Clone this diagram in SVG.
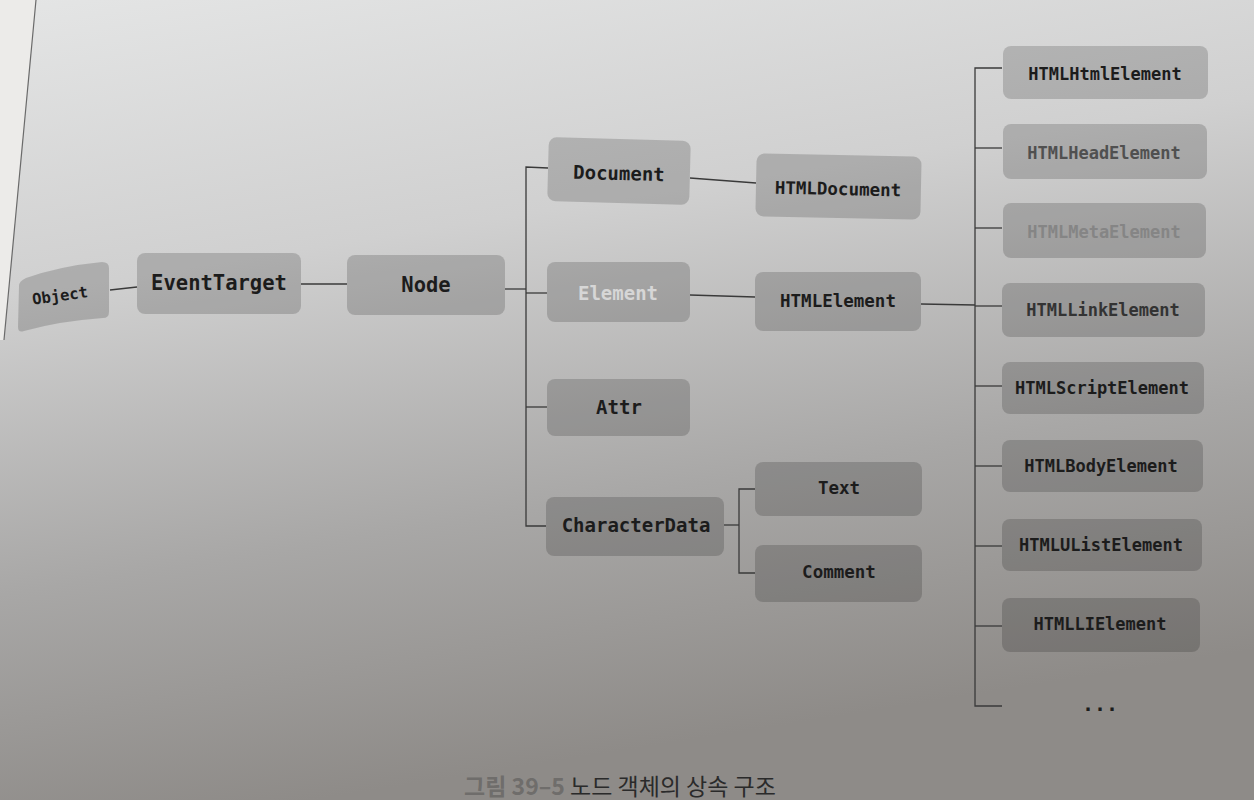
<svg xmlns="http://www.w3.org/2000/svg" width="1254" height="800" viewBox="0 0 1254 800">
<defs>
<linearGradient id="bg" x1="0" y1="0" x2="0.25" y2="1">
<stop offset="0" stop-color="#e4e5e5"/>
<stop offset="0.35" stop-color="#d0d0d0"/>
<stop offset="0.7" stop-color="#a8a7a6"/>
<stop offset="1" stop-color="#8e8b88"/>
</linearGradient>
<style>
.box{fill:#000;fill-opacity:0.17}
.lbl{font-family:"DejaVu Sans Mono","Liberation Mono",monospace;font-weight:bold;fill:#1c1c1c;text-anchor:middle;dominant-baseline:central}
.l1{font-size:19px}
.l2{font-size:17.5px}
.l3{font-size:17px}
.con{fill:none;stroke:#3a3a3a;stroke-width:1.3}
</style>
</defs>
<rect width="1254" height="800" fill="url(#bg)"/>
<path d="M0,0 L36,0 L4,340 L0,340 Z" fill="#ecebe9"/>
<path d="M36,0 L4,340" stroke="#6a6a6a" stroke-width="1.2" fill="none"/>
<g id="connectors">
<path class="con" d="M110,290 L137,287"/>
<path class="con" d="M301,284 L347,284"/>
<path class="con" d="M505,289 L526,289"/>
<path class="con" d="M548,168 L526,167 L526,526 L546,526"/>
<path class="con" d="M526,293 L547,293"/>
<path class="con" d="M526,407 L547,407"/>
<path class="con" d="M690,178 L756,183"/>
<path class="con" d="M690,295 L755,297"/>
<path class="con" d="M724,525 L739,525"/>
<path class="con" d="M755,489 L739,489 L739,573 L755,573"/>
<path class="con" d="M921,304 L975,305"/>
<path class="con" d="M1002,68 L975,68 L975,706 L1002,706"/>
<path class="con" d="M975,148 L1002,148"/>
<path class="con" d="M975,228 L1002,228"/>
<path class="con" d="M975,306 L1002,306"/>
<path class="con" d="M975,386 L1002,386"/>
<path class="con" d="M975,466 L1002,466"/>
<path class="con" d="M975,546 L1002,546"/>
<path class="con" d="M975,626 L1002,626"/>
</g>
<g id="node-object">
<path class="box" d="M26,278 Q60,266 102,262 Q109,262 109,268 L109,312 Q109,318 103,318 Q60,321 24,331 Q18,333 18,327 L19,286 Q19,281 26,278 Z"/>
<text class="lbl" x="60" y="296" font-size="15.5" transform="rotate(-8 60 296)">Object</text>
</g>
<g id="node-eventtarget">
<rect class="box" x="137" y="253" width="164" height="61" rx="8"/>
<text class="lbl" x="219" y="283" font-size="20.5">EventTarget</text>
</g>
<g id="node-node">
<rect class="box" x="347" y="255" width="158" height="60" rx="8"/>
<text class="lbl" x="426" y="285" font-size="20.5">Node</text>
</g>
<g id="node-document">
<rect class="box" x="548" y="139" width="142" height="64" rx="8" transform="rotate(1.5 619 171)"/>
<text class="lbl l1" x="619" y="173" transform="rotate(1.5 619 173)">Document</text>
</g>
<g id="node-element">
<rect class="box" x="547" y="262" width="143" height="60" rx="8"/>
<text class="lbl l1" x="618" y="293" style="fill:#d6d6d6">Element</text>
</g>
<g id="node-attr">
<rect class="box" x="547" y="379" width="143" height="57" rx="8"/>
<text class="lbl l1" x="619" y="407">Attr</text>
</g>
<g id="node-characterdata">
<rect class="box" x="546" y="497" width="178" height="59" rx="8"/>
<text class="lbl l1" x="636" y="525">CharacterData</text>
</g>
<g id="node-htmldocument">
<rect class="box" x="756" y="155" width="165" height="63" rx="8" transform="rotate(1.2 838 186)"/>
<text class="lbl l2" x="838" y="189" transform="rotate(1.2 838 189)">HTMLDocument</text>
</g>
<g id="node-htmlelement">
<rect class="box" x="755" y="272" width="166" height="59" rx="8"/>
<text class="lbl l2" x="838" y="301">HTMLElement</text>
</g>
<g id="node-text">
<rect class="box" x="755" y="462" width="167" height="54" rx="8"/>
<text class="lbl l2" x="839" y="488">Text</text>
</g>
<g id="node-comment">
<rect class="box" x="755" y="545" width="167" height="57" rx="8"/>
<text class="lbl l2" x="839" y="572">Comment</text>
</g>
<g id="node-htmlhtmlelement">
<rect class="box" x="1003" y="46" width="205" height="53" rx="8"/>
<text class="lbl l3" x="1105" y="74">HTMLHtmlElement</text>
</g>
<g id="node-htmlheadelement">
<rect class="box" x="1003" y="124" width="204" height="55" rx="8"/>
<text class="lbl l3" x="1104" y="153" style="fill:#505050">HTMLHeadElement</text>
</g>
<g id="node-htmlmetaelement">
<rect class="box" x="1003" y="203" width="203" height="55" rx="8"/>
<text class="lbl l3" x="1104" y="232" style="fill:#858585">HTMLMetaElement</text>
</g>
<g id="node-htmllinkelement">
<rect class="box" x="1002" y="283" width="203" height="54" rx="8"/>
<text class="lbl l3" x="1103" y="310" style="fill:#333">HTMLLinkElement</text>
</g>
<g id="node-htmlscriptelement">
<rect class="box" x="1002" y="362" width="202" height="52" rx="8"/>
<text class="lbl l3" x="1102" y="388">HTMLScriptElement</text>
</g>
<g id="node-htmlbodyelement">
<rect class="box" x="1002" y="440" width="201" height="52" rx="8"/>
<text class="lbl l3" x="1101" y="466">HTMLBodyElement</text>
</g>
<g id="node-htmlulistelement">
<rect class="box" x="1002" y="519" width="200" height="52" rx="8"/>
<text class="lbl l3" x="1101" y="545">HTMLUListElement</text>
</g>
<g id="node-htmllielement">
<rect class="box" x="1002" y="598" width="198" height="54" rx="8"/>
<text class="lbl l3" x="1100" y="624">HTMLLIElement</text>
</g>
<g id="node-more">
<text class="lbl" x="1100" y="704" font-size="20">...</text>
</g>
<text x="620" y="795" text-anchor="middle" font-family="Noto Sans CJK KR, Noto Sans, sans-serif" font-size="23" fill="#2a2a2a"><tspan fill="#6f6d6b" font-weight="bold">그림 39–5</tspan> 노드 객체의 상속 구조</text>
</svg>
